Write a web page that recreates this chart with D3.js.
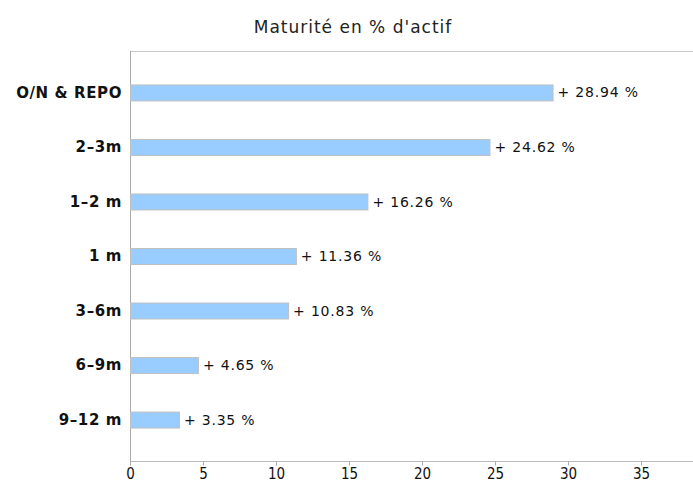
<!DOCTYPE html>
<html>
<head>
<meta charset="utf-8">
<script src="https://cdn.jsdelivr.net/npm/d3@7"></script>
<style>
  body { margin: 0; background: #fff; }
  svg { display: block; }
  .xaxis text { font-family: 'DejaVu Sans Condensed', 'DejaVu Sans', sans-serif; font-stretch: condensed; font-size: 15px; }
</style>
</head>
<body>
<div class="graph"></div>
<script>
const w = 693;
const h = 483;
const margin = {top: 51, right: 0, bottom: 22, left: 130};

const title = "Maturité en % d'actif";
const categories = ["O/N & REPO", "2–3m", "1–2 m", "1 m", "3–6m", "6–9m", "9–12 m"];
const values = [28.94, 24.62, 16.26, 11.36, 10.83, 4.65, 3.35];
const xTicks = [0, 5, 10, 15, 20, 25, 30, 35];

const canvas = d3.select(".graph")
                 .append("svg")
                 .attr("width", w)
                 .attr("height", h);

const font = "'DejaVu Sans', sans-serif";

canvas.append("text")
      .attr("x", 353)
      .attr("y", 33)
      .attr("text-anchor", "middle")
      .style("font-family", font)
      .style("font-size", "17px")
      .style("letter-spacing", "1px")
      .attr("fill", "#222")
      .text(title);

// scales
const xScale = d3.scaleLinear()
                 .domain([0, 38.56])
                 .range([margin.left, w - margin.right]);

const yScale = d3.scalePoint()
                 .domain(categories)
                 .range([margin.top, h - margin.bottom])
                 .padding(0.76);

// top frame line
canvas.append("line")
      .attr("x1", margin.left).attr("x2", w)
      .attr("y1", margin.top + 0.5).attr("y2", margin.top + 0.5)
      .attr("stroke", "#c8c8c8");

// x-axis
const xAxis = d3.axisBottom(xScale)
                .tickValues(xTicks)
                .tickSize(4)
                .tickFormat(d3.format("d"));

const gx = canvas.append("g")
                 .attr("class", "xaxis")
                 .attr("transform", `translate(0, ${h - margin.bottom + 0.5})`)
                 .call(xAxis)
                 .attr("font-size", null)
                 .attr("font-family", null);
gx.select(".domain").attr("stroke", "#bbb").attr("d", `M${margin.left},0H${w}`);
gx.selectAll(".tick line").attr("stroke", "#aaa");
gx.selectAll(".tick text")
  .attr("y", 7)
  .attr("fill", "#111");

// y-axis
canvas.append("line")
      .attr("x1", margin.left + 0.5).attr("x2", margin.left + 0.5)
      .attr("y1", margin.top).attr("y2", h - margin.bottom + 4)
      .attr("stroke", "#aaa");

canvas.selectAll(".cat")
      .data(categories)
      .enter().append("text")
      .attr("class", "cat")
      .attr("x", margin.left - 8)
      .attr("y", d => yScale(d))
      .attr("dy", "0.36em")
      .attr("text-anchor", "end")
      .style("font-family", font)
      .style("font-weight", "bold")
      .style("font-size", "15px")
      .style("letter-spacing", "0.6px")
      .attr("fill", "#111")
      .text(d => d);

// bars
const barH = 16;
canvas.selectAll(".bar")
      .data(values)
      .enter().append("rect")
      .attr("class", "bar")
      .attr("x", margin.left + 0.5)
      .attr("y", (d, i) => yScale(categories[i]) - barH / 2 + 0.5)
      .attr("width", d => xScale(d) - margin.left)
      .attr("height", barH)
      .attr("fill", "#99ccff")
      .attr("stroke", "#c0c0c0");

canvas.selectAll(".val")
      .data(values)
      .enter().append("text")
      .attr("class", "val")
      .attr("x", d => xScale(d) + 5)
      .attr("y", (d, i) => yScale(categories[i]))
      .attr("dy", "0.36em")
      .style("font-family", font)
      .style("font-size", "14px")
      .style("letter-spacing", "0.8px")
      .attr("fill", "#111")
      .text(d => "+ " + d.toFixed(2) + " %");
</script>
</body>
</html>
